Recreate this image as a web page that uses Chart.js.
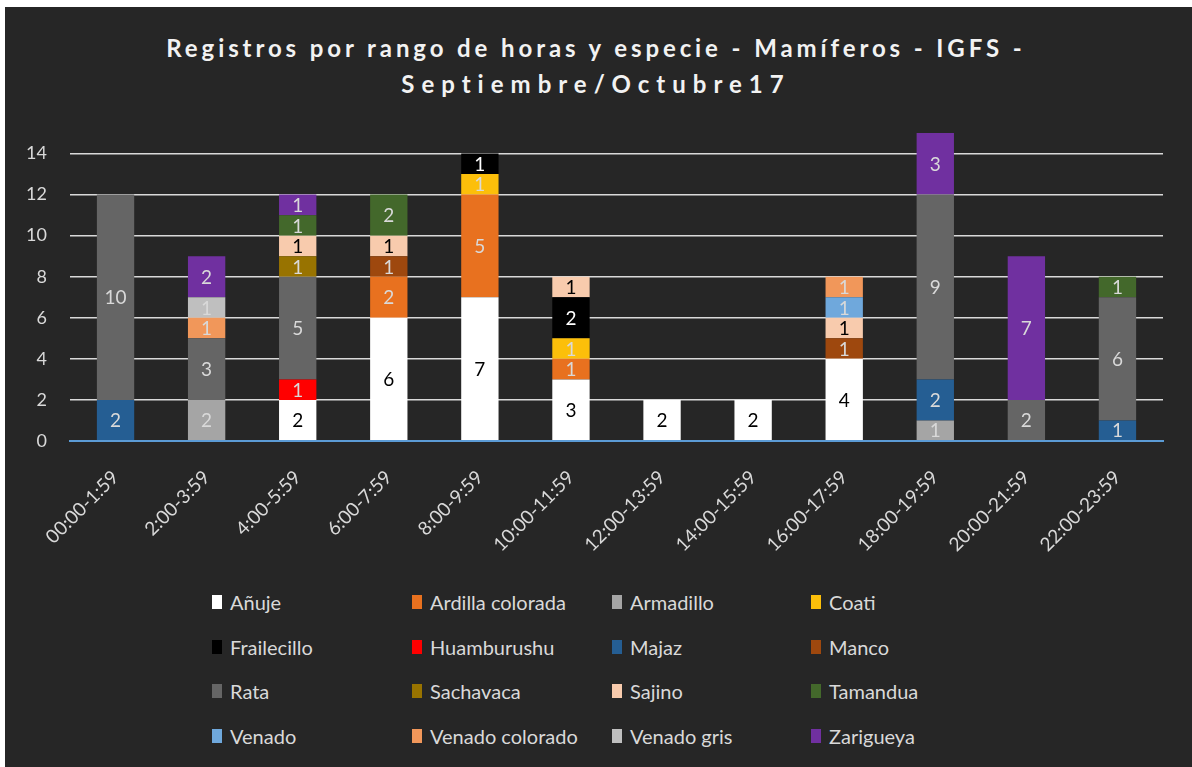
<!DOCTYPE html>
<html>
<head>
<meta charset="utf-8">
<script src="https://cdn.jsdelivr.net/npm/chart.js@4.4.1/dist/chart.umd.min.js"></script>
<style>
  body { margin: 0; background: #ffffff; font-family: Lato, "Open Sans", sans-serif; }
  #fondo { position: absolute; left: 5px; top: 7px; width: 1187px; height: 760px; background: #262626; }
  #titulo { position: absolute; left: 0; top: 30px; width: 1192px; text-align: center; color: #f2f2f2;
            font-weight: bold; font-size: 24px; line-height: 36px; }
  #titulo .l1 { letter-spacing: 3.9px; }
  #titulo .l2 { letter-spacing: 7px; }
  #grafico { position: absolute; left: 0; top: 0; }
  #leyenda { position: absolute; left: 212px; top: 580px; display: grid;
             grid-template-columns: 200px 200px 199px 200px; grid-auto-rows: 44.5px; }
  #leyenda div { display: flex; align-items: center; color: #d9d9d9; font-size: 20px; white-space: nowrap; }
  #leyenda span { display: inline-block; width: 10px; height: 14px; margin-right: 8px; }
</style>
</head>
<body>
<div id="fondo"></div>
<div id="titulo">
  <div class="l1">Registros por rango de horas y especie - Mamíferos - IGFS -</div>
  <div class="l2">Septiembre/Octubre17</div>
</div>
<canvas id="grafico" width="1192" height="570"></canvas>
<div id="leyenda"></div>
<script>
var horas = ['00:00-1:59', '2:00-3:59', '4:00-5:59', '6:00-7:59', '8:00-9:59', '10:00-11:59',
             '12:00-13:59', '14:00-15:59', '16:00-17:59', '18:00-19:59', '20:00-21:59', '22:00-23:59'];

var anuje          = [0, 0, 2, 6, 7, 3, 2, 2, 4, 0, 0, 0];
var ardilla        = [0, 0, 0, 2, 5, 1, 0, 0, 0, 0, 0, 0];
var armadillo      = [0, 2, 0, 0, 0, 0, 0, 0, 0, 1, 0, 0];
var coati          = [0, 0, 0, 0, 1, 1, 0, 0, 0, 0, 0, 0];
var frailecillo    = [0, 0, 0, 0, 1, 2, 0, 0, 0, 0, 0, 0];
var huamburushu    = [0, 0, 1, 0, 0, 0, 0, 0, 0, 0, 0, 0];
var majaz          = [2, 0, 0, 0, 0, 0, 0, 0, 0, 2, 0, 1];
var manco          = [0, 0, 0, 1, 0, 0, 0, 0, 1, 0, 0, 0];
var rata           = [10, 3, 5, 0, 0, 0, 0, 0, 0, 9, 2, 6];
var sachavaca      = [0, 0, 1, 0, 0, 0, 0, 0, 0, 0, 0, 0];
var sajino         = [0, 0, 1, 1, 0, 1, 0, 0, 1, 0, 0, 0];
var tamandua       = [0, 0, 1, 2, 0, 0, 0, 0, 0, 0, 0, 1];
var venado         = [0, 0, 0, 0, 0, 0, 0, 0, 1, 0, 0, 0];
var venadoColorado = [0, 1, 0, 0, 0, 0, 0, 0, 1, 0, 0, 0];
var venadoGris     = [0, 1, 0, 0, 0, 0, 0, 0, 0, 0, 0, 0];
var zarigueya      = [0, 2, 1, 0, 0, 0, 0, 0, 0, 3, 7, 0];

function serie(nombre, datos, color, colorTexto) {
    return {
        label: nombre,
        data: datos,
        backgroundColor: color,
        borderWidth: 0,
        barPercentage: 0.41,
        categoryPercentage: 1,
        colorTexto: colorTexto
    };
}

var series = [
    serie('Añuje', anuje, '#ffffff', '#000000'),
    serie('Ardilla colorada', ardilla, '#e8711f', '#d9d9d9'),
    serie('Armadillo', armadillo, '#a5a5a5', '#d9d9d9'),
    serie('Coati', coati, '#fcbf0a', '#d9d9d9'),
    serie('Frailecillo', frailecillo, '#000000', '#ffffff'),
    serie('Huamburushu', huamburushu, '#ff0000', '#d9d9d9'),
    serie('Majaz', majaz, '#255e93', '#d9d9d9'),
    serie('Manco', manco, '#9e480e', '#d9d9d9'),
    serie('Rata', rata, '#656565', '#d9d9d9'),
    serie('Sachavaca', sachavaca, '#987300', '#d9d9d9'),
    serie('Sajino', sajino, '#f8cbad', '#000000'),
    serie('Tamandua', tamandua, '#43682b', '#d9d9d9'),
    serie('Venado', venado, '#6fa8dc', '#d9d9d9'),
    serie('Venado colorado', venadoColorado, '#f1975a', '#d9d9d9'),
    serie('Venado gris', venadoGris, '#bfbfbf', '#d9d9d9'),
    serie('Zarigueya', zarigueya, '#7030a0', '#d9d9d9')
];

// numeros dentro de cada segmento
var etiquetas = {
    id: 'etiquetas',
    afterDatasetsDraw: function(chart) {
        var ctx = chart.ctx;
        ctx.save();
        ctx.font = '19px Lato';
        ctx.textAlign = 'center';
        ctx.textBaseline = 'middle';
        chart.data.datasets.forEach(function(ds, i) {
            var meta = chart.getDatasetMeta(i);
            meta.data.forEach(function(bar, j) {
                var v = ds.data[j];
                if (!v) return;
                ctx.fillStyle = ds.colorTexto;
                ctx.fillText(v, bar.x, (bar.y + bar.base) / 2 + 1);
            });
        });
        ctx.restore();
    }
};

var grafico = new Chart(document.getElementById('grafico'), {
    type: 'bar',
    data: { labels: horas, datasets: series },
    options: {
        responsive: false,
        animation: false,
        layout: { padding: { top: 133, right: 29, bottom: 4, left: 0 } },
        plugins: {
            legend: { display: false },
            title: { display: false },
            tooltip: { enabled: false }
        },
        scales: {
            x: {
                stacked: true,
                grid: { display: false },
                border: { color: '#5b9bd5', width: 2 },
                ticks: {
                    color: '#d9d9d9',
                    font: { family: 'Lato', size: 19 },
                    minRotation: 45,
                    maxRotation: 45,
                    padding: 17
                },
                afterFit: function(scale) { scale.height = 125; }
            },
            y: {
                stacked: true,
                min: 0,
                max: 15,
                border: { display: false },
                grid: {
                    drawTicks: false,
                    color: function(c) { return c.tick && c.tick.value === 0 ? '#5b9bd5' : '#d9d9d9'; },
                    lineWidth: function(c) { return c.tick && c.tick.value === 0 ? 2 : 1.5; }
                },
                ticks: {
                    stepSize: 2,
                    color: '#d9d9d9',
                    font: { family: 'Lato', size: 18 },
                    padding: 23
                },
                afterBuildTicks: function(axis) {
                    axis.ticks = axis.ticks.filter(function(t) { return t.value <= 14; });
                },
                afterFit: function(scale) { scale.width = 70; }
            }
        }
    },
    plugins: [etiquetas]
});

// leyenda en cuadricula de 4 columnas
var leyenda = document.getElementById('leyenda');
grafico.data.datasets.forEach(function(ds) {
    var item = document.createElement('div');
    var caja = document.createElement('span');
    caja.style.background = ds.backgroundColor;
    item.appendChild(caja);
    item.appendChild(document.createTextNode(ds.label));
    leyenda.appendChild(item);
});
</script>
</body>
</html>
